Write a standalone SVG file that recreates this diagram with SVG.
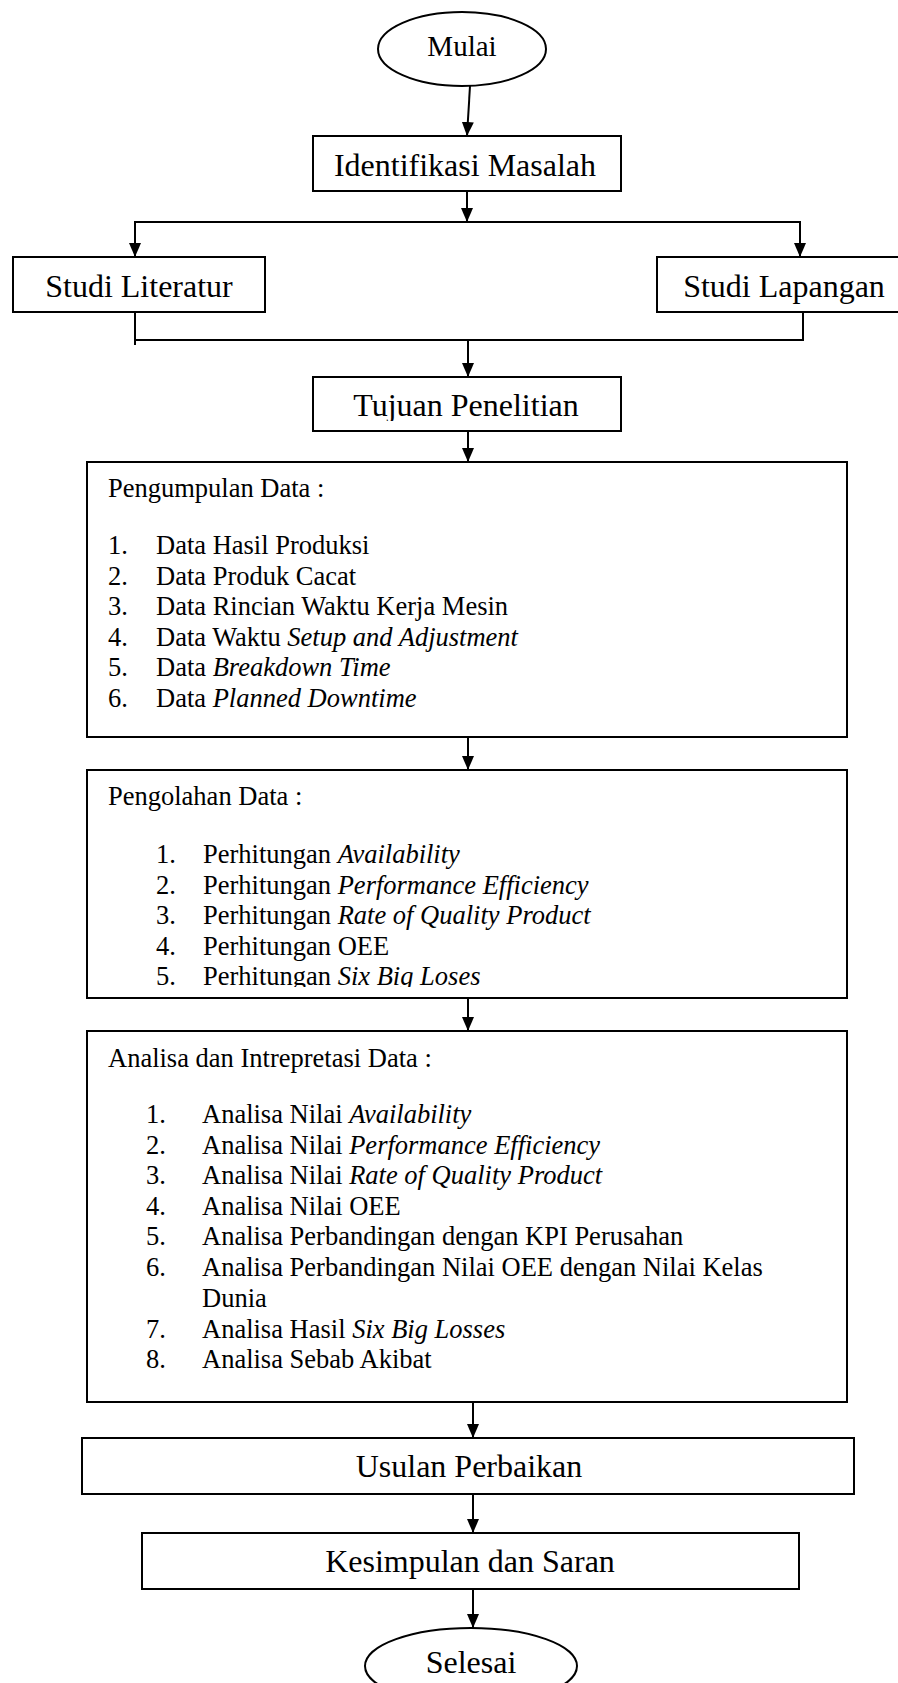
<svg xmlns="http://www.w3.org/2000/svg" width="898" height="1683" viewBox="0 0 898 1683">
<style>
.box{fill:#fff;stroke:#000;stroke-width:2}
.ln{fill:none;stroke:#000;stroke-width:2}
.lbl{font-family:"Liberation Serif","Times New Roman",serif;font-size:32px;fill:#000;text-anchor:middle}
.t{font-family:"Liberation Serif","Times New Roman",serif;font-size:26.5px;fill:#000}
.i{font-style:italic}
</style>
<defs>
<marker id="ah" viewBox="0 0 14 12" refX="14" refY="6" markerWidth="14" markerHeight="12" markerUnits="userSpaceOnUse" orient="auto">
<path d="M0,0 L14,6 L0,12 z" fill="#000"/>
</marker>
<clipPath id="c2"><rect x="87" y="770" width="760" height="217"/></clipPath>
<clipPath id="cTuj"><rect x="313" y="377" width="308" height="44"/></clipPath>
</defs>
<rect width="898" height="1683" fill="#fff"/>

<g id="connectors">
<line class="ln" x1="470" y1="86" x2="467" y2="136" marker-end="url(#ah)"/>
<line class="ln" x1="467" y1="191" x2="467" y2="222" marker-end="url(#ah)"/>
<line class="ln" x1="134" y1="222" x2="801" y2="222"/>
<line class="ln" x1="135" y1="221" x2="135" y2="257" marker-end="url(#ah)"/>
<line class="ln" x1="800" y1="221" x2="800" y2="257" marker-end="url(#ah)"/>
<line class="ln" x1="135" y1="312" x2="135" y2="345"/>
<line class="ln" x1="803" y1="312" x2="803" y2="341"/>
<line class="ln" x1="135" y1="340" x2="804" y2="340"/>
<line class="ln" x1="468" y1="340" x2="468" y2="377" marker-end="url(#ah)"/>
<line class="ln" x1="468" y1="431" x2="468" y2="462" marker-end="url(#ah)"/>
<line class="ln" x1="468" y1="737" x2="468" y2="770" marker-end="url(#ah)"/>
<line class="ln" x1="468" y1="998" x2="468" y2="1031" marker-end="url(#ah)"/>
<line class="ln" x1="473" y1="1402" x2="473" y2="1438" marker-end="url(#ah)"/>
<line class="ln" x1="473" y1="1494" x2="473" y2="1533" marker-end="url(#ah)"/>
<line class="ln" x1="473" y1="1589" x2="473" y2="1628" marker-end="url(#ah)"/>
</g>

<g id="mulai">
<ellipse class="box" cx="462" cy="49" rx="84" ry="37"/>
<text class="lbl" x="462" y="56" style="font-size:29px">Mulai</text>
</g>

<g id="identifikasi">
<rect class="box" x="313" y="136" width="308" height="55"/>
<text class="lbl" x="465" y="176">Identifikasi Masalah</text>
</g>

<g id="studi-literatur">
<rect class="box" x="13" y="257" width="252" height="55"/>
<text class="lbl" x="139" y="297">Studi Literatur</text>
</g>

<g id="studi-lapangan">
<rect class="box" x="657" y="257" width="260" height="55"/>
<text class="lbl" x="784" y="297">Studi Lapangan</text>
</g>

<g id="tujuan">
<rect class="box" x="313" y="377" width="308" height="54"/>
<text class="lbl" x="466" y="416" clip-path="url(#cTuj)">Tujuan Penelitian</text>
</g>

<g id="pengumpulan">
<rect class="box" x="87" y="462" width="760" height="275"/>
<text class="t" x="108" y="497">Pengumpulan Data :</text>
<text class="t" x="108" y="554">1.</text><text class="t" x="156" y="554">Data Hasil Produksi</text>
<text class="t" x="108" y="584.5">2.</text><text class="t" x="156" y="584.5">Data Produk Cacat</text>
<text class="t" x="108" y="615">3.</text><text class="t" x="156" y="615">Data Rincian Waktu Kerja Mesin</text>
<text class="t" x="108" y="645.5">4.</text><text class="t" x="156" y="645.5">Data Waktu <tspan class="i">Setup and Adjustment</tspan></text>
<text class="t" x="108" y="676">5.</text><text class="t" x="156" y="676">Data <tspan class="i">Breakdown Time</tspan></text>
<text class="t" x="108" y="706.5">6.</text><text class="t" x="156" y="706.5">Data <tspan class="i">Planned Downtime</tspan></text>
</g>

<g id="pengolahan">
<rect class="box" x="87" y="770" width="760" height="228"/>
<g clip-path="url(#c2)">
<text class="t" x="108" y="805">Pengolahan Data :</text>
<text class="t" x="156" y="863">1.</text><text class="t" x="203" y="863">Perhitungan <tspan class="i">Availability</tspan></text>
<text class="t" x="156" y="893.5">2.</text><text class="t" x="203" y="893.5">Perhitungan <tspan class="i">Performance Efficiency</tspan></text>
<text class="t" x="156" y="924">3.</text><text class="t" x="203" y="924">Perhitungan <tspan class="i">Rate of Quality Product</tspan></text>
<text class="t" x="156" y="954.5">4.</text><text class="t" x="203" y="954.5">Perhitungan OEE</text>
<text class="t" x="156" y="985">5.</text><text class="t" x="203" y="985">Perhitungan <tspan class="i">Six Big Loses</tspan></text>
</g>
</g>

<g id="analisa">
<rect class="box" x="87" y="1031" width="760" height="371"/>
<text class="t" x="108" y="1067">Analisa dan Intrepretasi Data :</text>
<text class="t" x="146" y="1123">1.</text><text class="t" x="202" y="1123">Analisa Nilai <tspan class="i">Availability</tspan></text>
<text class="t" x="146" y="1153.5">2.</text><text class="t" x="202" y="1153.5">Analisa Nilai <tspan class="i">Performance Efficiency</tspan></text>
<text class="t" x="146" y="1184">3.</text><text class="t" x="202" y="1184">Analisa Nilai <tspan class="i">Rate of Quality Product</tspan></text>
<text class="t" x="146" y="1214.5">4.</text><text class="t" x="202" y="1214.5">Analisa Nilai OEE</text>
<text class="t" x="146" y="1245">5.</text><text class="t" x="202" y="1245">Analisa Perbandingan dengan KPI Perusahan</text>
<text class="t" x="146" y="1275.5">6.</text><text class="t" x="202" y="1275.5">Analisa Perbandingan Nilai OEE dengan Nilai Kelas</text>
<text class="t" x="202" y="1306.5">Dunia</text>
<text class="t" x="146" y="1337.5">7.</text><text class="t" x="202" y="1337.5">Analisa Hasil <tspan class="i">Six Big Losses</tspan></text>
<text class="t" x="146" y="1368">8.</text><text class="t" x="202" y="1368">Analisa Sebab Akibat</text>
</g>

<g id="usulan">
<rect class="box" x="82" y="1438" width="772" height="56"/>
<text class="lbl" x="469" y="1477">Usulan Perbaikan</text>
</g>

<g id="kesimpulan">
<rect class="box" x="142" y="1533" width="657" height="56"/>
<text class="lbl" x="470" y="1572">Kesimpulan dan Saran</text>
</g>

<g id="selesai">
<ellipse class="box" cx="471" cy="1666" rx="106" ry="38"/>
<text class="lbl" x="471" y="1673">Selesai</text>
</g>
</svg>
